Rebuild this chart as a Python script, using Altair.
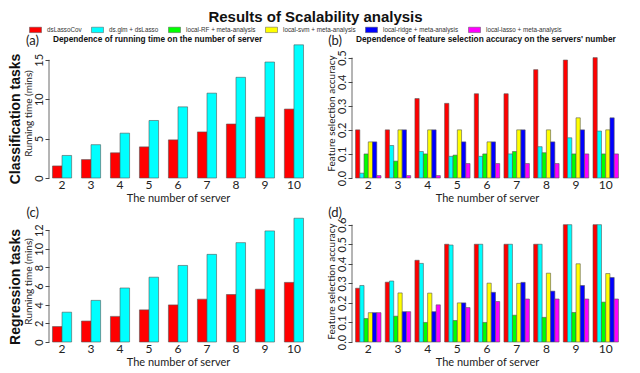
import altair as alt
import pandas as pd

servers = [2, 3, 4, 5, 6, 7, 8, 9, 10]
methods = ["dsLassoCov", "ds.glm + dsLasso", "local-RF + meta-analysis",
           "local-svm + meta-analysis", "local-ridge + meta-analysis",
           "local-lasso + meta-analysis"]
colors = ["#FF0000", "#00FFFF", "#00FF00", "#FFFF00", "#0000FF", "#FF00FF"]

# (a) classification running time (mins)
cls_time_dslassocov = [1.53, 2.34, 3.19, 3.95, 4.84, 5.85, 6.85, 7.74, 8.75]
cls_time_dsglm = [2.86, 4.23, 5.69, 7.3, 9.03, 10.77, 12.78, 14.72, 16.9]

# (b) classification feature selection accuracy
cls_acc_dslassocov = [0.2, 0.2, 0.33, 0.31, 0.35, 0.35, 0.45, 0.49, 0.5]
cls_acc_dsglm = [0.02, 0.135, 0.11, 0.09, 0.09, 0.1, 0.13, 0.167, 0.195]
cls_acc_rf = [0.1, 0.07, 0.1, 0.095, 0.1, 0.11, 0.105, 0.1, 0.1]
cls_acc_svm = [0.15, 0.2, 0.2, 0.2, 0.15, 0.2, 0.2, 0.25, 0.2]
cls_acc_ridge = [0.15, 0.2, 0.2, 0.15, 0.15, 0.2, 0.15, 0.2, 0.25]
cls_acc_lasso = [0.01, 0.01, 0.01, 0.06, 0.06, 0.06, 0.06, 0.1, 0.1]

# (c) regression running time (mins)
reg_time_dslassocov = [1.66, 2.25, 2.75, 3.45, 3.98, 4.6, 5.1, 5.67, 6.4]
reg_time_dsglm = [3.2, 4.47, 5.8, 6.96, 8.22, 9.41, 10.67, 11.93, 13.29]

# (d) regression feature selection accuracy
reg_acc_dslassocov = [0.275, 0.306, 0.418, 0.5, 0.5, 0.5, 0.5, 0.6, 0.6]
reg_acc_dsglm = [0.289, 0.312, 0.402, 0.496, 0.5, 0.5, 0.5, 0.6, 0.6]
reg_acc_rf = [0.12, 0.132, 0.1, 0.11, 0.1, 0.137, 0.126, 0.151, 0.204]
reg_acc_svm = [0.15, 0.251, 0.25, 0.2, 0.301, 0.3, 0.352, 0.4, 0.35]
reg_acc_ridge = [0.15, 0.155, 0.155, 0.2, 0.254, 0.305, 0.26, 0.289, 0.33]
reg_acc_lasso = [0.15, 0.155, 0.19, 0.176, 0.207, 0.22, 0.22, 0.22, 0.22]

main_title = "Results of Scalability analysis"
AXFONT = "Lato"


def frame(series):
    rows = []
    for m, vals in series:
        for s, v in zip(servers, vals):
            rows.append({"server": s, "method": m, "value": v})
    return pd.DataFrame(rows)


def panel(series, ydomain, yvalues, yfmt, ytitle, letter, desc, width, height, pad_inner):
    df = frame(series)
    meths = [m for m, _ in series]
    yscale = alt.Scale(domain=ydomain, nice=False, zero=True)
    yaxis = alt.Axis(title=ytitle, values=yvalues, format=yfmt, domain=False, grid=False,
                     labelAngle=270, labelFontSize=11, labelFont=AXFONT,
                     labelOverlap=False, labelFlush=False, labelBound=False,
                     labelColor="#222222", labelPadding=1, tickSize=4,
                     tickColor="#444444",
                     titleFontSize=10, titleFont=AXFONT, titleFontWeight="normal",
                     titleColor="#222222", titlePadding=0)
    bars = alt.Chart(df).mark_bar(stroke="#555555", strokeWidth=0.6).encode(
        x=alt.X("server:O",
                scale=alt.Scale(paddingInner=pad_inner, paddingOuter=0.12),
                axis=alt.Axis(title="The number of server", domain=False, ticks=False,
                              labelAngle=0, labelFontSize=12, labelFont=AXFONT,
                              labelColor="#222222", labelPadding=1,
                              titleFontSize=11, titleFont=AXFONT, titleFontWeight="normal",
                              titleColor="#222222", titlePadding=2)),
        xOffset=alt.XOffset("method:N", sort=meths,
                            scale=alt.Scale(domain=meths, paddingInner=0, paddingOuter=0)),
        y=alt.Y("value:Q", scale=yscale, axis=yaxis),
        color=alt.Color("method:N",
                        scale=alt.Scale(domain=methods, range=colors),
                        legend=alt.Legend(title=None, orient="none", direction="horizontal",
                                          legendX=-17, legendY=-22,
                                          symbolType="M-2,-0.9H2V0.9H-2Z", symbolSize=36,
                                          symbolStrokeColor="#555555", symbolStrokeWidth=0.5,
                                          labelFontSize=6.3, labelFont="Liberation Sans",
                                          labelColor="#333333", columnPadding=8,
                                          labelOffset=8)),
    )
    rule = alt.Chart(pd.DataFrame({"y0": [yvalues[0]], "y1": [yvalues[-1]]})).mark_rule(
        color="#444444", strokeWidth=0.8
    ).encode(x=alt.value(0), y=alt.Y("y0:Q", scale=yscale, axis=yaxis), y2="y1:Q")
    layers = [bars, rule]
    lab = alt.Chart(pd.DataFrame({"t": [letter]})).mark_text(
        align="right", baseline="middle", fontSize=13, font=AXFONT, color="#222222"
    ).encode(text="t:N", x=alt.value(-10), y=alt.value(-7))
    layers.append(lab)
    if desc:
        txt = alt.Chart(pd.DataFrame({"t": [desc]})).mark_text(
            align="left", baseline="middle", fontWeight="bold", fontSize=8.3,
            font="Liberation Sans", color="#111111"
        ).encode(text="t:N", x=alt.value(4), y=alt.value(-8))
        layers.append(txt)
    return alt.layer(*layers).properties(width=width, height=height)


pa = panel([(methods[0], cls_time_dslassocov), (methods[1], cls_time_dsglm)],
           [0, 16.5], [0, 5, 10, 15], "d", "Running time (mins)", "(a)",
           "Dependence of running time on the number of server", 258, 130, 0.34)
pb = panel([(methods[0], cls_acc_dslassocov), (methods[1], cls_acc_dsglm),
            (methods[2], cls_acc_rf), (methods[3], cls_acc_svm),
            (methods[4], cls_acc_ridge), (methods[5], cls_acc_lasso)],
           [0, 0.54], [0, 0.1, 0.2, 0.3, 0.4, 0.5], ".1f", "Feature selection accuracy", "(b)",
           "Dependence of feature selection accuracy on the servers' number", 270, 130, 0.143)
pc = panel([(methods[0], reg_time_dslassocov), (methods[1], reg_time_dsglm)],
           [0, 13.1], [0, 2, 4, 6, 8, 10, 12], "d", "Running time (mins)", "(c)",
           None, 258, 122, 0.34)
pd_ = panel([(methods[0], reg_acc_dslassocov), (methods[1], reg_acc_dsglm),
             (methods[2], reg_acc_rf), (methods[3], reg_acc_svm),
             (methods[4], reg_acc_ridge), (methods[5], reg_acc_lasso)],
            [0, 0.624], [0, 0.1, 0.2, 0.3, 0.4, 0.5, 0.6], ".1f", "Feature selection accuracy", "(d)",
            None, 270, 122, 0.143)

row_title = dict(orient="left", anchor="middle", fontSize=14, fontWeight="bold",
                 font="Liberation Sans", color="#111111", offset=0)

top = alt.hconcat(pa, pb, spacing=18).properties(
    title=alt.TitleParams("Classification tasks", **row_title)
).resolve_scale(x="independent", y="independent", xOffset="independent")
bottom = alt.hconcat(pc, pd_, spacing=18).properties(
    title=alt.TitleParams("Regression tasks", **row_title)
).resolve_scale(x="independent", y="independent", xOffset="independent")

chart = alt.vconcat(top, bottom, spacing=4).properties(
    title=alt.TitleParams(main_title, anchor="middle", fontSize=15,
                          fontWeight="bold", font="Liberation Sans", color="#111111", offset=1),
    padding={"top": 2, "left": 0, "right": 0, "bottom": 0},
).resolve_scale(x="independent", y="independent", xOffset="independent").configure_view(
    stroke=None
)

chart.save("out.html", embed_options={"renderer": "svg", "actions": False})
